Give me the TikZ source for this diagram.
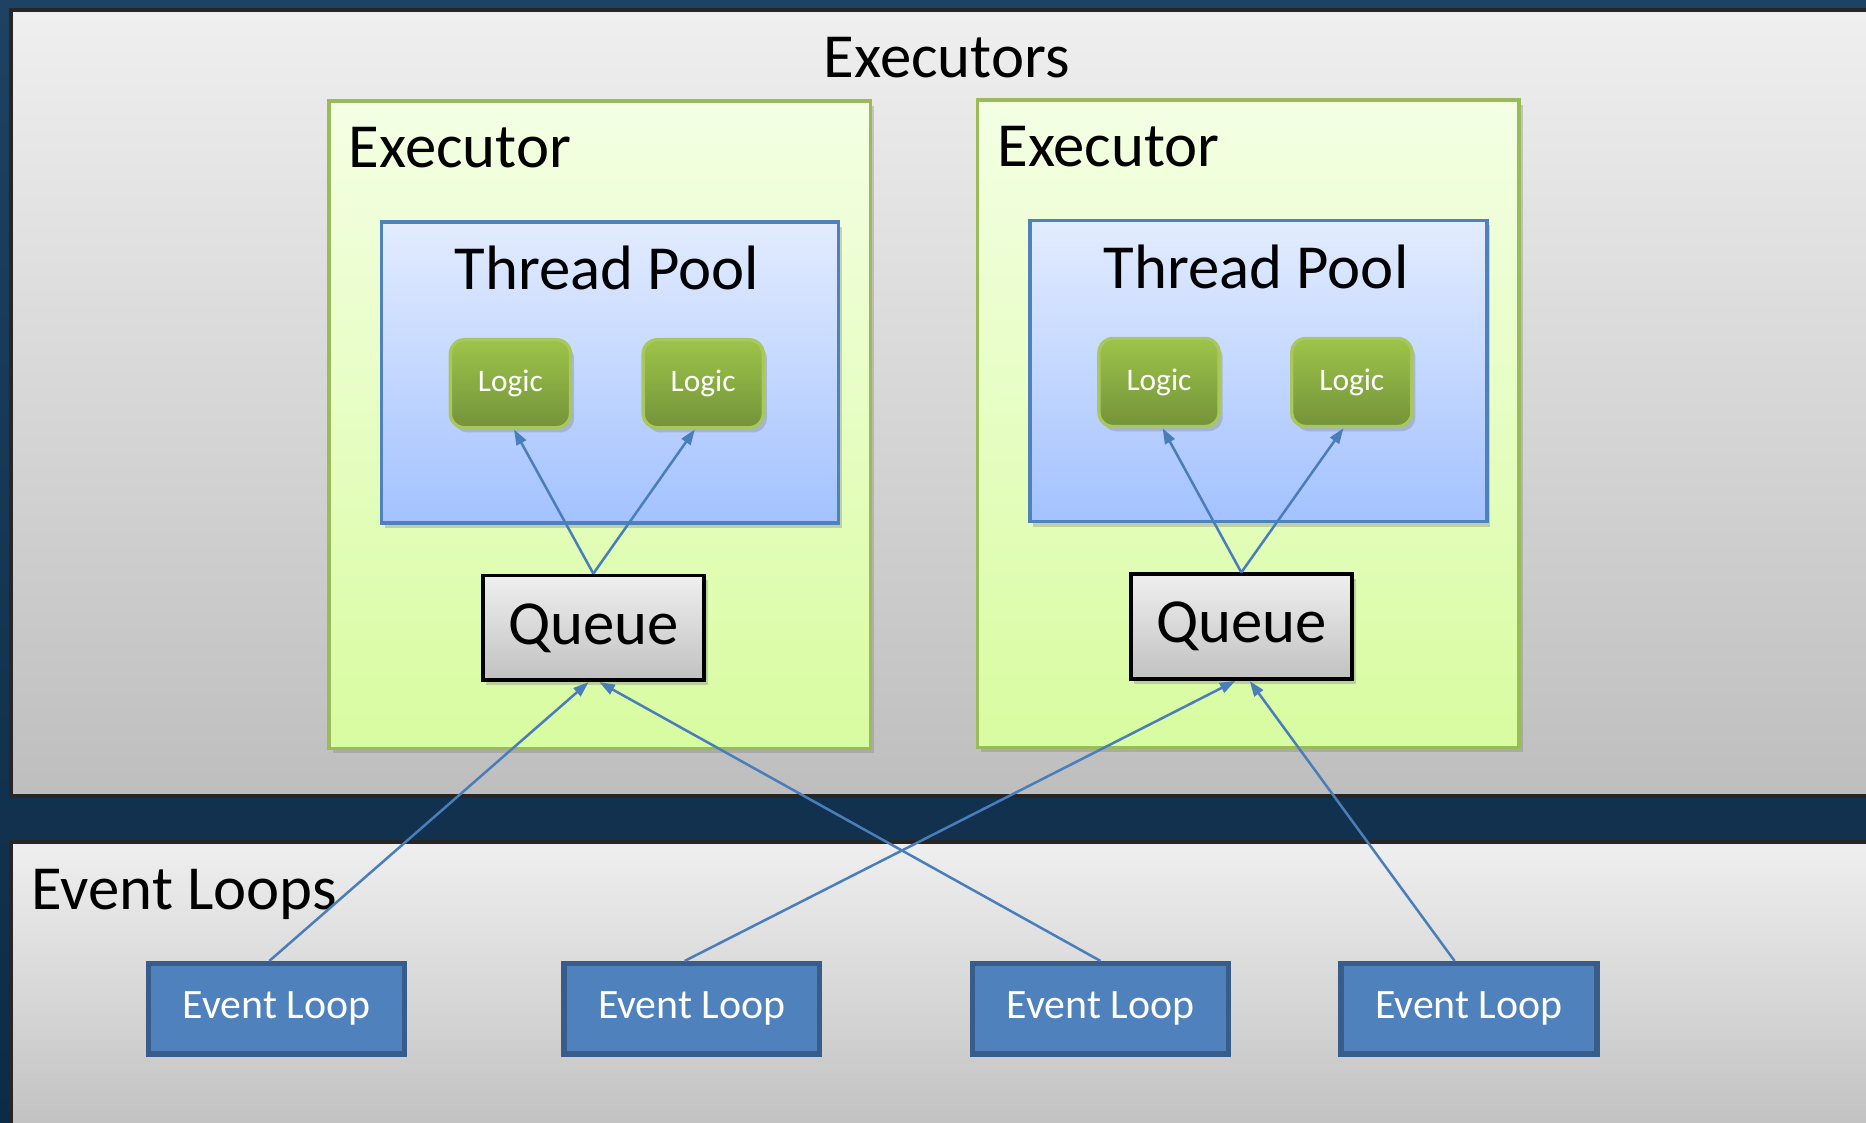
\documentclass[tikz,border=0pt]{standalone}
\usepackage{fontspec}
\setmainfont{Carlito}
\usetikzlibrary{arrows.meta,shadows}
\definecolor{navy}{HTML}{0C2B47}
\definecolor{navytop}{HTML}{1E4261}
\definecolor{panelhi}{HTML}{EFEFEF}
\definecolor{panello}{HTML}{BEBEBE}
\definecolor{exechi}{HTML}{F4FFE4}
\definecolor{execlo}{HTML}{D8FCA0}
\definecolor{execline}{HTML}{9BBB59}
\definecolor{poolhi}{HTML}{E3ECFF}
\definecolor{poollo}{HTML}{A3C2FF}
\definecolor{poolline}{HTML}{4F81BD}
\definecolor{logichi}{HTML}{9DC449}
\definecolor{logiclo}{HTML}{74933A}
\definecolor{logicline}{HTML}{A8C85E}
\definecolor{loopfill}{HTML}{4F81BD}
\definecolor{loopline}{HTML}{385D8A}
\definecolor{arrowblue}{HTML}{4A7EBB}
\begin{document}
\begin{tikzpicture}[
  panel/.style={draw=black!85,line width=0.9pt,top color=panelhi,bottom color=panello,anchor=north west,minimum width=15.8cm},
  executor/.style={draw=execline,line width=0.8pt,top color=exechi,bottom color=execlo,anchor=north west,minimum width=4.55cm,minimum height=5.44cm,
    drop shadow={shadow xshift=0.03cm,shadow yshift=-0.04cm,opacity=0.35}},
  pool/.style={draw=poolline,line width=0.8pt,top color=poolhi,bottom color=poollo,anchor=north west,minimum width=3.84cm,minimum height=2.53cm,
    drop shadow={shadow xshift=0.03cm,shadow yshift=-0.04cm,opacity=0.35}},
  logic/.style={draw=logicline,line width=0.8pt,rounded corners=0.12cm,top color=logichi,bottom color=logiclo,anchor=north west,
    minimum width=1.01cm,minimum height=0.74cm,text=white,font=\fontsize{7.5}{9}\selectfont,
    drop shadow={shadow xshift=0.03cm,shadow yshift=-0.04cm,opacity=0.35}},
  queue/.style={draw=black,line width=0.9pt,top color=panelhi,bottom color=panello!95,anchor=north west,
    minimum width=1.86cm,minimum height=0.88cm,font=\fontsize{15}{18}\selectfont,
    drop shadow={shadow xshift=0.03cm,shadow yshift=-0.04cm,opacity=0.35}},
  eventloop/.style={draw=loopline,line width=1.3pt,fill=loopfill,anchor=north west,minimum width=2.15cm,minimum height=0.76cm,
    text=white,font=\fontsize{10}{12}\selectfont},
  title/.style={inner sep=0pt,font=\fontsize{15}{18}\selectfont},
  feed/.style={draw=arrowblue,line width=0.6pt,-{Triangle[length=0.13cm,width=0.09cm]}}
]
\useasboundingbox (0,0) rectangle (15.68,-9.43);
\clip (0,0) rectangle (15.68,-9.43);
\shade[top color=navytop,bottom color=navy] (0,0) rectangle (15.68,-9.43);
% the two layers
\node[panel,minimum height=6.60cm] (execpanel) at (0.075,-0.07) {};
\node[panel,minimum height=2.60cm] (looppanel) at (0.075,-7.06) {};
\node[title,anchor=base] (executorstitle) at (7.955,-0.65) {Executors};
\node[title,anchor=base west] (loopstitle) at (0.26,-7.645) {Event Loops};
% first executor
\node[executor] (executor1) at (2.75,-0.835) {};
\node[title,anchor=base west] (executor1title) at (2.925,-1.41) {Executor};
\node[pool] (pool1) at (3.19,-1.85) {};
\node[title,anchor=base] (pool1title) at (5.10,-2.435) {Thread Pool};
\node[logic] (logic1a) at (3.77,-2.84) {Logic};
\node[logic] (logic1b) at (5.39,-2.84) {Logic};
\node[queue] (queue1) at (4.04,-4.82) {Queue};
% second executor
\node[executor] (executor2) at (8.20,-0.825) {};
\node[title,anchor=base west] (executor2title) at (8.375,-1.40) {Executor};
\node[pool] (pool2) at (8.64,-1.84) {};
\node[title,anchor=base] (pool2title) at (10.555,-2.425) {Thread Pool};
\node[logic] (logic2a) at (9.22,-2.83) {Logic};
\node[logic] (logic2b) at (10.84,-2.83) {Logic};
\node[queue] (queue2) at (9.485,-4.81) {Queue};
% event loops
\node[eventloop] (loop1) at (1.225,-8.075) {Event Loop};
\node[eventloop] (loop2) at (4.715,-8.075) {Event Loop};
\node[eventloop] (loop3) at (8.15,-8.075) {Event Loop};
\node[eventloop] (loop4) at (11.245,-8.075) {Event Loop};
% queue to logic
\draw[feed] (queue1.north) -- ([xshift=0.03cm]logic1a.south);
\draw[feed] (queue1.north) -- ([xshift=-0.07cm]logic1b.south);
\draw[feed] (queue2.north) -- ([xshift=0.03cm]logic2a.south);
\draw[feed] (queue2.north) -- ([xshift=-0.07cm]logic2b.south);
% event loops to queues
\draw[feed] ([xshift=-0.06cm]loop1.north) -- ([xshift=-0.04cm]queue1.south);
\draw[feed] (loop3.north) -- ([xshift=0.05cm]queue1.south);
\draw[feed] ([xshift=-0.06cm]loop2.north) -- ([xshift=-0.05cm]queue2.south);
\draw[feed] ([xshift=-0.12cm]loop4.north) -- ([xshift=0.07cm]queue2.south);
\end{tikzpicture}
\end{document}
